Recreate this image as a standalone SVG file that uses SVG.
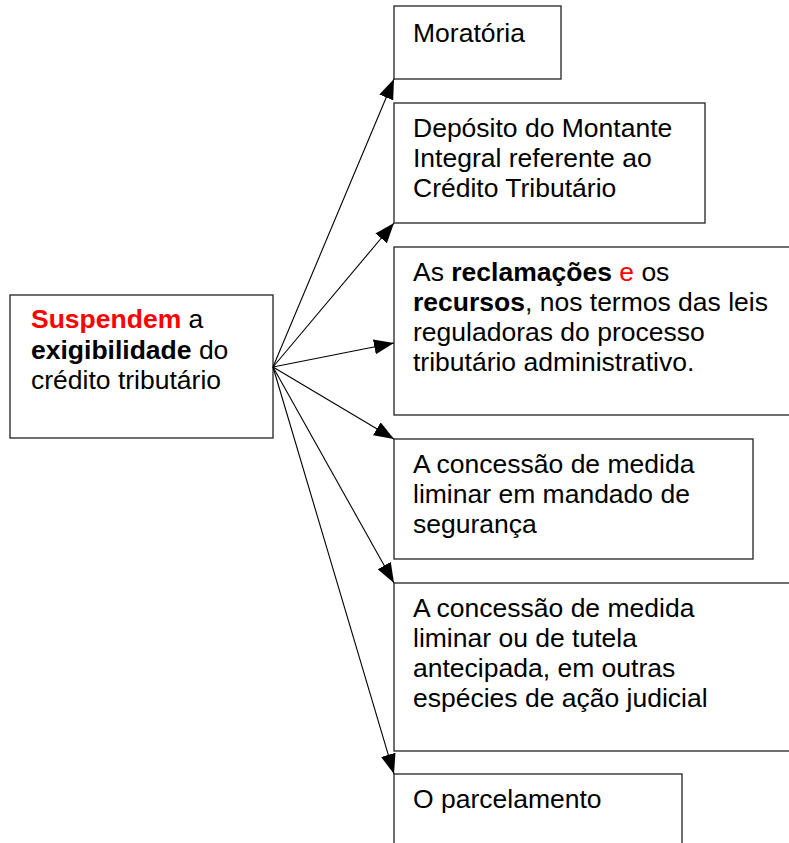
<svg xmlns="http://www.w3.org/2000/svg" width="789" height="843" viewBox="0 0 789 843">
<defs>
<style>
.box{fill:#fff;stroke:#222;stroke-width:1.3}
.t{font-family:"Liberation Sans",Arial,sans-serif;font-size:26.5px;fill:#000}
.b{font-weight:bold}
.r{fill:#ff0000}
.c{stroke:#000;stroke-width:1.1;fill:none;marker-end:url(#ah)}
</style>
<marker id="ah" markerUnits="userSpaceOnUse" markerWidth="22" markerHeight="16" refX="20" refY="7.5" orient="auto" viewBox="0 0 22 16">
<path d="M0,0 L20,7.5 L0,15 z" fill="#000"/>
</marker>
</defs>
<rect width="789" height="843" fill="#fff"/>
<g id="n-suspendem">
<rect class="box" x="10" y="295" width="263" height="143"/>
<text class="t" x="31" y="328"><tspan class="b r">Suspendem</tspan> a</text>
<text class="t" x="31" y="358.5"><tspan class="b">exigibilidade</tspan> do</text>
<text class="t" x="31" y="389">crédito tributário</text>
</g>
<g id="n-moratoria">
<rect class="box" x="394" y="6" width="167" height="73"/>
<text class="t" x="413" y="42">Moratória</text>
</g>
<g id="n-deposito">
<rect class="box" x="394" y="103" width="311" height="120"/>
<text class="t" x="413" y="137">Depósito do Montante</text>
<text class="t" x="413" y="167">Integral referente ao</text>
<text class="t" x="413" y="197">Crédito Tributário</text>
</g>
<g id="n-reclamacoes">
<rect class="box" x="394" y="247" width="410" height="168"/>
<text class="t" x="413" y="281">As <tspan class="b">reclamações</tspan> <tspan class="r">e</tspan> os</text>
<text class="t" x="413" y="311"><tspan class="b">recursos</tspan>, nos termos das leis</text>
<text class="t" x="413" y="341">reguladoras do processo</text>
<text class="t" x="413" y="371">tributário administrativo.</text>
</g>
<g id="n-liminar-ms">
<rect class="box" x="394" y="439" width="359" height="120"/>
<text class="t" x="413" y="473">A concessão de medida</text>
<text class="t" x="413" y="503">liminar em mandado de</text>
<text class="t" x="413" y="533">segurança</text>
</g>
<g id="n-liminar-tutela">
<rect class="box" x="394" y="583" width="410" height="168"/>
<text class="t" x="413" y="617">A concessão de medida</text>
<text class="t" x="413" y="647">liminar ou de tutela</text>
<text class="t" x="413" y="677">antecipada, em outras</text>
<text class="t" x="413" y="707">espécies de ação judicial</text>
</g>
<g id="n-parcelamento">
<rect class="box" x="394" y="774" width="288" height="90"/>
<text class="t" x="413" y="808">O parcelamento</text>
</g>
<g id="connectors">
<line class="c" x1="273" y1="367" x2="394" y2="79"/>
<line class="c" x1="273" y1="367" x2="394" y2="223"/>
<line class="c" x1="273" y1="367" x2="394" y2="343"/>
<line class="c" x1="273" y1="367" x2="394" y2="439"/>
<line class="c" x1="273" y1="367" x2="394" y2="583"/>
<line class="c" x1="273" y1="367" x2="394" y2="774"/>
</g>
</svg>
